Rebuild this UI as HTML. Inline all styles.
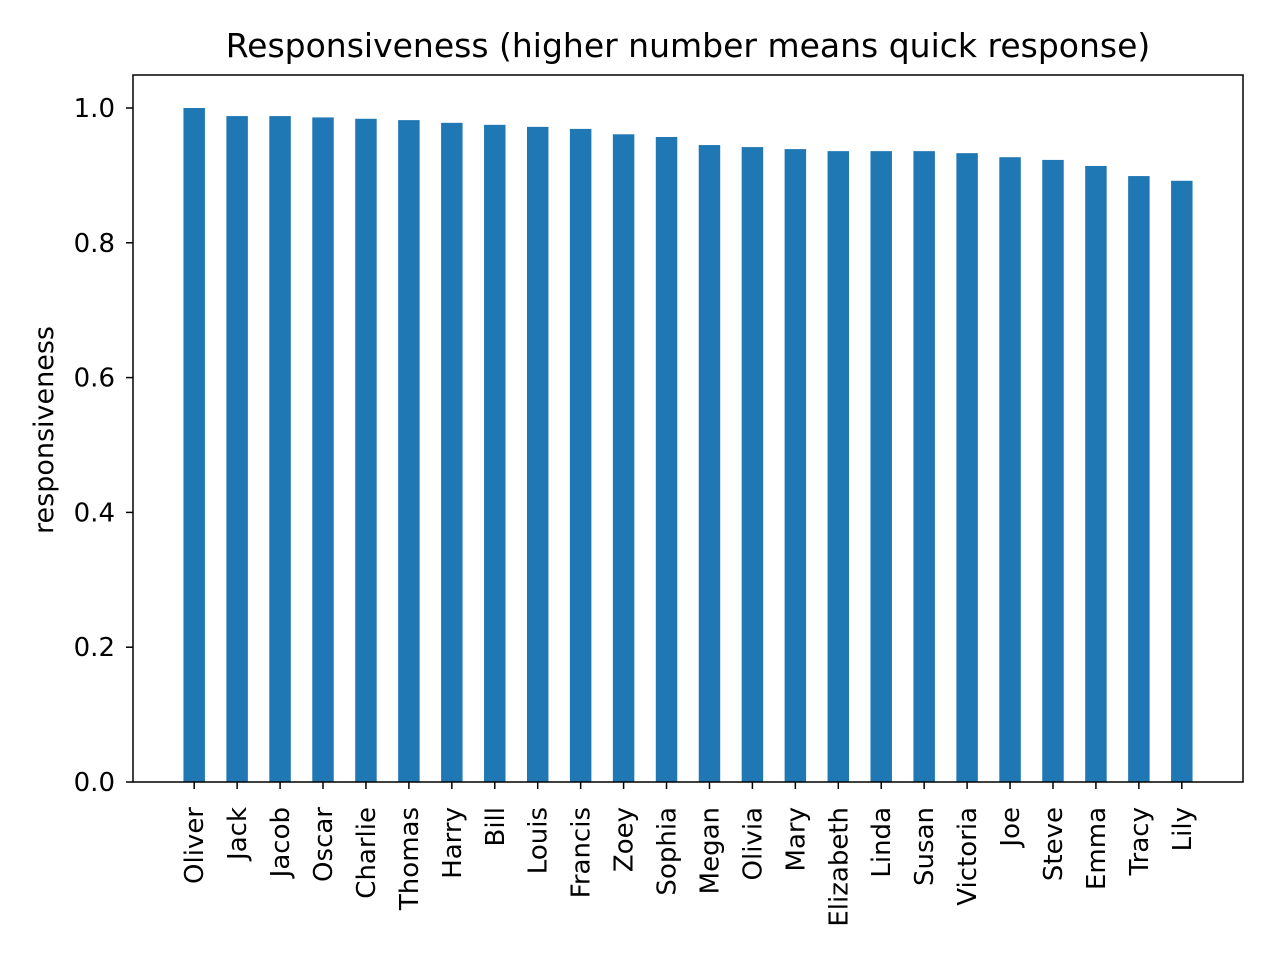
<!DOCTYPE html>
<html><head><meta charset="utf-8"><style>
html,body{margin:0;padding:0;background:#fff;}
svg text{font-family:"DejaVu Sans","Liberation Sans",sans-serif;fill:#000;}
</style></head><body>
<svg id="chart" width="1280" height="960" xmlns="http://www.w3.org/2000/svg">
<rect width="1280" height="960" fill="#fff"/>
<text x="688" y="57" font-size="33" text-anchor="middle">Responsiveness (higher number means quick response)</text>
<text transform="translate(53,430) rotate(-90)" font-size="27" text-anchor="middle">responsiveness</text>
<g id="bars"></g>
<g id="yticks"></g>
<g id="xticks"></g>
<rect x="133" y="75" width="1110" height="707" fill="none" stroke="#000" stroke-width="1.5"/>
</svg>
<script>
const categories = ["Oliver","Jack","Jacob","Oscar","Charlie","Thomas","Harry","Bill","Louis","Francis","Zoey","Sophia","Megan","Olivia","Mary","Elizabeth","Linda","Susan","Victoria","Joe","Steve","Emma","Tracy","Lily"];
const values = [1.0,0.988,0.988,0.986,0.984,0.982,0.978,0.975,0.972,0.969,0.961,0.957,0.945,0.942,0.939,0.936,0.936,0.936,0.933,0.927,0.923,0.914,0.899,0.892];
const yTicks = [0,0.2,0.4,0.6,0.8,1.0];
const yTickLabels = ["0.0","0.2","0.4","0.6","0.8","1.0"];

const NS="http://www.w3.org/2000/svg";
const L=133,R=1243,B=782;
const n=categories.length;
const xmin=-0.25-0.05*(n-0.5), xmax=n-0.75+0.05*(n-0.5);
function xs(v){return L+(v-xmin)/(xmax-xmin)*(R-L);}
function ys(v){return B-v*674;}
const bw=xs(0.5)-xs(0);
const gb=document.getElementById('bars'), gy=document.getElementById('yticks'), gx=document.getElementById('xticks');
values.forEach((v,i)=>{
  const r=document.createElementNS(NS,'rect');
  
  
  r.setAttribute('x',xs(i)-bw/2);r.setAttribute('width',bw);
  r.setAttribute('y',ys(v));r.setAttribute('height',B-ys(v));
  r.setAttribute('fill','#1f77b4');gb.appendChild(r);
  const t=document.createElementNS(NS,'line');
  
  
  t.setAttribute('x1',xs(i));t.setAttribute('x2',xs(i));t.setAttribute('y1',B);t.setAttribute('y2',B+7);
  t.setAttribute('stroke','#000');t.setAttribute('stroke-width','1.5');gx.appendChild(t);
  const tx=document.createElementNS(NS,'text');
  
  
  tx.setAttribute('transform','translate('+(xs(i)+9)+','+(B+25)+') rotate(-90)');
  tx.setAttribute('text-anchor','end');tx.setAttribute('font-size','26');
  tx.textContent=categories[i];gx.appendChild(tx);
});
yTicks.forEach((v,i)=>{
  const t=document.createElementNS(NS,'line');
  
  
  t.setAttribute('x1',L-7);t.setAttribute('x2',L);t.setAttribute('y1',ys(v));t.setAttribute('y2',ys(v));
  t.setAttribute('stroke','#000');t.setAttribute('stroke-width','1.5');gy.appendChild(t);
  const tx=document.createElementNS(NS,'text');
  
  
  tx.setAttribute('x',L-18);tx.setAttribute('y',ys(v)+9);
  tx.setAttribute('text-anchor','end');tx.setAttribute('font-size','26');
  tx.textContent=yTickLabels[i];gy.appendChild(tx);
});
</script>
</body></html>
